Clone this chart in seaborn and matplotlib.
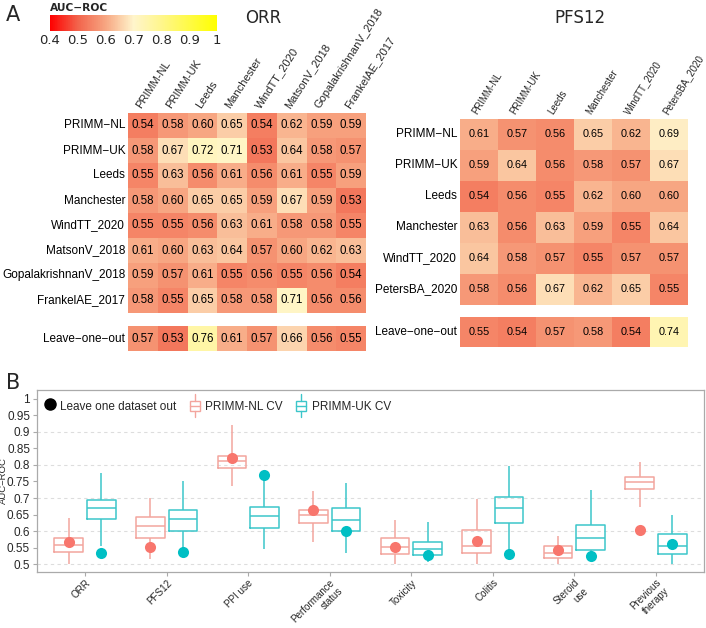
import numpy as np
import pandas as pd
import matplotlib
matplotlib.use("Agg")
import matplotlib.pyplot as plt
import seaborn as sns
from matplotlib.colors import LinearSegmentedColormap
from matplotlib.patches import Patch, Rectangle
from matplotlib.lines import Line2D
from matplotlib.legend_handler import HandlerBase

sns.set_style("white")
plt.rcParams['font.family'] = ['Liberation Sans', 'DejaVu Sans']
plt.rcParams['axes.unicode_minus'] = True

# ---- data: heatmaps (panel A) ----
orr_sets = ['PRIMM-NL', 'PRIMM-UK', 'Leeds', 'Manchester', 'WindTT_2020',
            'MatsonV_2018', 'GopalakrishnanV_2018', 'FrankelAE_2017']
orr_auc = [
    [0.54, 0.58, 0.60, 0.65, 0.54, 0.62, 0.59, 0.59],
    [0.58, 0.67, 0.72, 0.71, 0.53, 0.64, 0.58, 0.57],
    [0.55, 0.63, 0.56, 0.61, 0.56, 0.61, 0.55, 0.59],
    [0.58, 0.60, 0.65, 0.65, 0.59, 0.67, 0.59, 0.53],
    [0.55, 0.55, 0.56, 0.63, 0.61, 0.58, 0.58, 0.55],
    [0.61, 0.60, 0.63, 0.64, 0.57, 0.60, 0.62, 0.63],
    [0.59, 0.57, 0.61, 0.55, 0.56, 0.55, 0.56, 0.54],
    [0.58, 0.55, 0.65, 0.58, 0.58, 0.71, 0.56, 0.56],
]
orr_loo = [0.57, 0.53, 0.76, 0.61, 0.57, 0.66, 0.56, 0.55]

pfs_sets = ['PRIMM-NL', 'PRIMM-UK', 'Leeds', 'Manchester', 'WindTT_2020', 'PetersBA_2020']
pfs_auc = [
    [0.61, 0.57, 0.56, 0.65, 0.62, 0.69],
    [0.59, 0.64, 0.56, 0.58, 0.57, 0.67],
    [0.54, 0.56, 0.55, 0.62, 0.60, 0.60],
    [0.63, 0.56, 0.63, 0.59, 0.55, 0.64],
    [0.64, 0.58, 0.57, 0.55, 0.57, 0.57],
    [0.58, 0.56, 0.67, 0.62, 0.65, 0.55],
]
pfs_loo = [0.55, 0.54, 0.57, 0.58, 0.54, 0.74]

# ---- data: boxplots (panel B), five-number summaries ----
traits = ['ORR', 'PFS12', 'PPI use', 'Performance\nstatus', 'Toxicity',
          'Colitis', 'Steroid\nuse', 'Previous\ntherapy']
cohorts = ['PRIMM-NL CV', 'PRIMM-UK CV']
nl_lo = [0.500, 0.514, 0.736, 0.568, 0.500, 0.500, 0.500, 0.674]
nl_q1 = [0.537, 0.580, 0.790, 0.625, 0.531, 0.534, 0.517, 0.727]
nl_med = [0.558, 0.615, 0.812, 0.648, 0.551, 0.556, 0.535, 0.748]
nl_q3 = [0.580, 0.641, 0.826, 0.665, 0.579, 0.603, 0.555, 0.764]
nl_hi = [0.640, 0.699, 0.922, 0.721, 0.632, 0.698, 0.586, 0.809]
uk_lo = [0.554, 0.540, 0.546, 0.533, 0.507, 0.531, 0.520, 0.500]
uk_q1 = [0.635, 0.601, 0.608, 0.599, 0.526, 0.625, 0.543, 0.531]
uk_med = [0.671, 0.637, 0.646, 0.632, 0.546, 0.670, 0.580, 0.556]
uk_q3 = [0.695, 0.663, 0.673, 0.671, 0.567, 0.703, 0.618, 0.590]
uk_hi = [0.777, 0.752, 0.770, 0.746, 0.626, 0.797, 0.725, 0.649]
loo_nl = [0.568, 0.551, 0.821, 0.664, 0.552, 0.571, 0.543, 0.604]
loo_uk = [0.534, 0.537, 0.770, 0.600, 0.526, 0.530, 0.525, 0.560]

NL_COL, UK_COL = '#F8766D', '#00BFC4'
NL_BOX, UK_BOX = '#F3A59E', '#3CC6CA'

cmap = LinearSegmentedColormap.from_list(
    'auc', [(0, '#FF0000'), (1 / 6, '#F2644C'), (2 / 6, '#F7A682'),
            (0.5, '#FFF5CC'), (4 / 6, '#FFF68C'), (1, '#FFFF00')])

W, H = 706, 628
fig = plt.figure(figsize=(W / 100, H / 100), dpi=100)


def px_axes(x0, y0, x1, y1):
    return fig.add_axes([x0 / W, 1 - y1 / H, (x1 - x0) / W, (y1 - y0) / H])


def draw_heat(ax, values, rows, cols, annot_size, cbar_ax=None, show_cols=True):
    df = pd.DataFrame(values, index=[r.replace('-', '\u2212') for r in rows], columns=cols)
    sns.heatmap(df, ax=ax, cmap=cmap, vmin=0.4, vmax=1.0, annot=True, fmt='.2f',
                annot_kws={'color': 'black', 'fontsize': annot_size},
                cbar=cbar_ax is not None, cbar_ax=cbar_ax,
                cbar_kws={'orientation': 'horizontal', 'ticks': np.arange(0.4, 1.01, 0.1)},
                xticklabels=show_cols, yticklabels=True)
    ax.set_xlabel('')
    ax.set_ylabel('')
    ax.tick_params(length=0, pad=2)
    plt.setp(ax.get_yticklabels(), rotation=0, fontsize=8.5, color='black')


# ORR heatmap + colorbar
ax_orr = px_axes(128, 113, 366, 313)
ax_cb = px_axes(50, 15, 217, 31)
draw_heat(ax_orr, orr_auc, orr_sets, orr_sets, 8.3, cbar_ax=ax_cb)
ax_orr.xaxis.tick_top()
ax_orr.set_xticklabels(orr_sets, rotation=57, ha='left', va='bottom',
                       rotation_mode='anchor', fontsize=8)

ax_orr_l = px_axes(128, 326, 366, 351)
draw_heat(ax_orr_l, [orr_loo], ['Leave-one-out'], orr_sets, 8.3, show_cols=False)

# PFS12 heatmap
ax_pfs = px_axes(460, 119, 688, 305)
draw_heat(ax_pfs, pfs_auc, pfs_sets, pfs_sets, 7.8)
ax_pfs.xaxis.tick_top()
ax_pfs.set_xticklabels(pfs_sets, rotation=58, ha='left', va='bottom',
                       rotation_mode='anchor', fontsize=7)
ax_pfs_l = px_axes(460, 317, 688, 347)
draw_heat(ax_pfs_l, [pfs_loo], ['Leave-one-out'], pfs_sets, 7.8, show_cols=False)

fig.text(263 / W, 1 - 18 / H, 'ORR', fontsize=12, family='DejaVu Sans', ha='center', va='center')
fig.text(580 / W, 1 - 18 / H, 'PFS12', fontsize=12, family='DejaVu Sans', ha='center', va='center')

# colorbar styling
ax_cb.set_xticklabels(['0.4', '0.5', '0.6', '0.7', '0.8', '0.9', '1'],
                      family='DejaVu Sans', fontsize=9.5)
ax_cb.tick_params(axis='x', length=3, color='white', direction='in', pad=2)
ax_cb.set_title('AUC\u2212ROC', loc='left', fontsize=7.7, fontweight='bold',
                family='DejaVu Sans', pad=3)
for s in ax_cb.spines.values():
    s.set_visible(False)

# ---- panel B ----
rows = []
for i, t in enumerate(traits):
    for c, stats in zip(cohorts, [(nl_lo, nl_q1, nl_med, nl_q3, nl_hi),
                                  (uk_lo, uk_q1, uk_med, uk_q3, uk_hi)]):
        for s in stats:
            rows.append((t, c, s[i]))
box_df = pd.DataFrame(rows, columns=['trait', 'cohort', 'auc'])
loo_df = pd.DataFrame({'trait': traits * 2,
                       'cohort': [cohorts[0]] * len(traits) + [cohorts[1]] * len(traits),
                       'auc': loo_nl + loo_uk})

axb = px_axes(37, 390, 704, 572)
for v in np.arange(0.5, 0.95, 0.1):
    axb.axhline(v, ls=(0, (3, 3)), color='#DDDDDD', lw=0.8, zorder=0)
sns.boxplot(data=box_df, x='trait', y='auc', hue='cohort', order=traits, hue_order=cohorts,
            palette={cohorts[0]: NL_BOX, cohorts[1]: UK_BOX}, fill=False,
            whis=(0, 100), width=0.8, gap=0.12, linewidth=1.1, showcaps=False,
            legend=False, ax=axb)
sns.stripplot(data=loo_df, x='trait', y='auc', hue='cohort', order=traits, hue_order=cohorts,
              palette={cohorts[0]: NL_COL, cohorts[1]: UK_COL}, dodge=True, jitter=False,
              size=8, linewidth=0, legend=False, ax=axb, zorder=4)
axb.set_xlim(-0.59, 7.59)
axb.set_ylim(0.476, 1.027)
yt = np.round(np.arange(0.5, 1.001, 0.05), 2)
axb.set_yticks(yt)
axb.set_yticklabels([f'{v:g}' for v in yt], fontsize=8.5)
axb.set_xticks(range(len(traits)))
axb.set_xticklabels(traits, rotation=45, ha='right', va='top', rotation_mode='anchor',
                    fontsize=7.1)
axb.set_xlabel('')
axb.set_ylabel('AUC\u2212ROC', fontsize=6.8)
axb.yaxis.set_label_coords(-29 / 667, 0.5)
axb.tick_params(axis='both', length=3, color='#AAAAAA', pad=2, bottom=True, left=True)
axb.tick_params(axis='x', pad=1)
for s in axb.spines.values():
    s.set_color('#AAAAAA')
    s.set_linewidth(0.9)


class BoxHandler(HandlerBase):
    def create_artists(self, legend, orig_handle, xdescent, ydescent, width, height,
                       fontsize, trans):
        c = orig_handle.get_edgecolor()
        cx = width / 2 - xdescent
        cy = height / 2 - ydescent
        bw, bh = width * 0.95, height * 0.75
        box = Rectangle((cx - bw / 2, cy - bh / 2), bw, bh, fill=False, edgecolor=c,
                        lw=1, transform=trans)
        med = Line2D([cx - bw / 2, cx + bw / 2], [cy, cy], color=c, lw=1, transform=trans)
        up = Line2D([cx, cx], [cy + bh / 2, cy + bh * 1.1], color=c, lw=1, transform=trans)
        dn = Line2D([cx, cx], [cy - bh / 2, cy - bh * 1.1], color=c, lw=1, transform=trans)
        return [box, med, up, dn]


handles = [Line2D([], [], marker='o', color='black', ls='none', markersize=8),
           Patch(facecolor='none', edgecolor=NL_BOX),
           Patch(facecolor='none', edgecolor=UK_BOX)]
axb.legend(handles, ['Leave one dataset out', 'PRIMM-NL CV', 'PRIMM-UK CV'],
           handler_map={Patch: BoxHandler()}, loc='upper left', bbox_to_anchor=(-0.005, 1.01),
           ncol=3, frameon=False, fontsize=8.5, handlelength=0.9, handleheight=1.4,
           handletextpad=0.45, columnspacing=1.1, borderaxespad=0.5)

fig.text(6 / W, 1 - 15 / H, 'A', fontsize=15, family='DejaVu Sans', va='center')
fig.text(6 / W, 1 - 383 / H, 'B', fontsize=15, family='DejaVu Sans', va='center')

fig.savefig('out.png', dpi=100)
